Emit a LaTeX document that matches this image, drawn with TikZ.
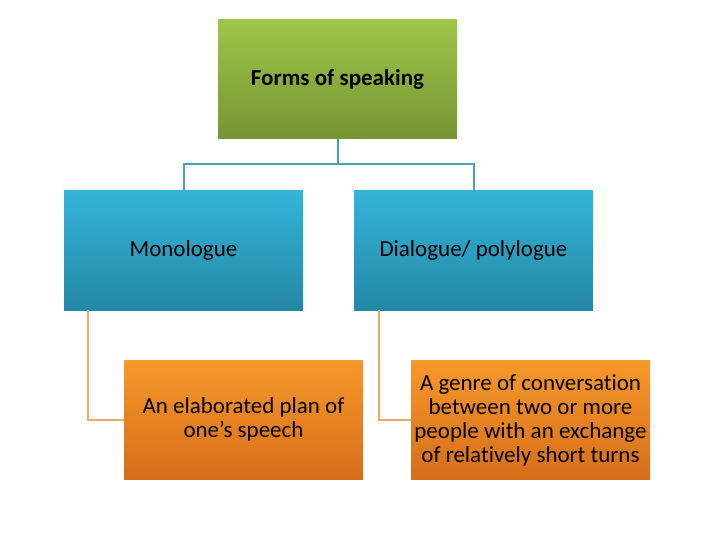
\documentclass[tikz,border=0pt]{standalone}
\usepackage{fontspec}
\setmainfont{Carlito}[Ligatures=NoCommon]
\begin{document}
\begin{tikzpicture}[x=1pt,y=-1pt,
  boxbase/.style={minimum width=239pt,minimum height=119pt,inner sep=2pt,align=center,text=black,font=\fontsize{23}{24}\selectfont},
  greenbox/.style={boxbase,top color=green1,bottom color=green2},
  bluebox/.style={boxbase,top color=blue1,bottom color=blue2},
  orangebox/.style={boxbase,top color=orange1,bottom color=orange2},
  blueline/.style={draw=lineblue,line width=2pt},
  orangeline/.style={draw=lineorange,line width=2pt}]
\definecolor{green1}{RGB}{158,198,74}
\definecolor{green2}{RGB}{118,148,50}
\definecolor{blue1}{RGB}{52,180,216}
\definecolor{blue2}{RGB}{36,136,166}
\definecolor{orange1}{RGB}{247,152,42}
\definecolor{orange2}{RGB}{214,110,26}
\definecolor{lineblue}{RGB}{70,160,190}
\definecolor{lineorange}{RGB}{230,170,110}
\useasboundingbox[fill=white] (0,0) rectangle (720,540);
\node[greenbox,font=\fontsize{23}{24}\selectfont\bfseries] (top) at (337.5,79.5) {Forms of speaking};
\node[bluebox] (mono) at (183.5,250.5) {Monologue};
\node[bluebox] (dia) at (473.5,250.5) {Dialogue/ polylogue};
\node[orangebox] (mplan) at (243.5,419.5) {An elaborated plan of\\one’s speech};
\node[orangebox] (dgen) at (530.5,420) {A genre of conversation\\between two or more\\people with an exchange\\of relatively short turns};
\coordinate (j) at (337.5,164);
\draw[blueline] (top.south) -- (j);
\draw[blueline] (mono.north) |- (j);
\draw[blueline] (dia.north) |- (j);
\draw[orangeline] ([xshift=-95.5pt]mono.south) |- (mplan.west);
\draw[orangeline] ([xshift=-94.5pt]dia.south) |- (dgen.west);
\end{tikzpicture}
\end{document}
